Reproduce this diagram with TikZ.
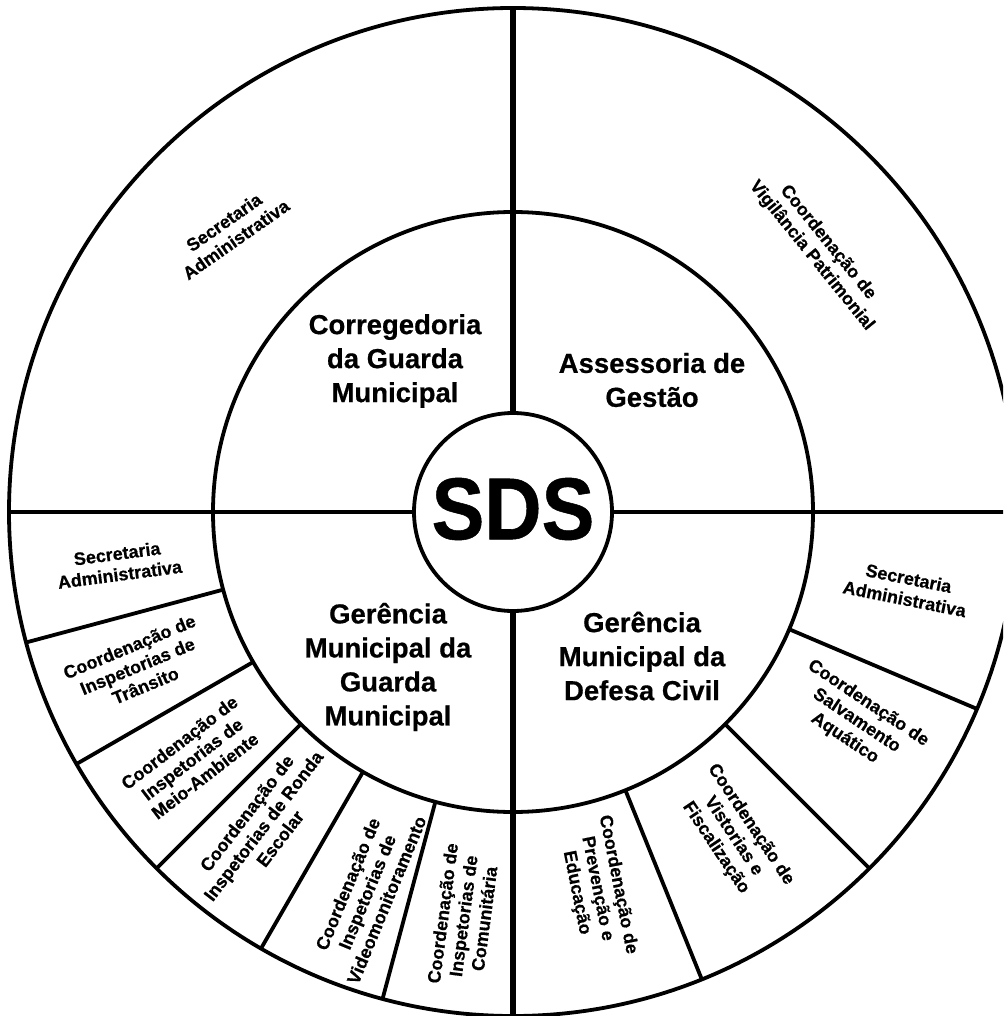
\documentclass[tikz,border=0pt]{standalone}
\usepackage{fontspec}
\setmainfont{Liberation Sans}[BoldFeatures={FakeBold=0.6}]
\begin{document}
\begin{tikzpicture}[x=1pt,y=1pt,
  ring/.style={draw, circle, line width=3.8pt, outer sep=0pt, inner sep=0pt},
  crossv/.style={line width=5.5pt},
  crossh/.style={line width=4.2pt},
  divider/.style={line width=3.8pt},
  mainlbl/.style={font=\fontsize{27.5}{34}\selectfont\bfseries, align=center, inner sep=0pt},
  ringlbl/.style={font=\fontsize{18}{21}\selectfont\bfseries, align=center, inner sep=0pt}]
\useasboundingbox (0,0) rectangle (1003,-1016);
\clip (0,0) rectangle (1003,-1016);
\fill[white] (0,0) rectangle (1003,-1016);
\coordinate (O) at (513,-512);
\node[ring, minimum size=1008pt] (outer) at (O) {};
\node[ring, minimum size=600pt] (mid) at (O) {};
\node[ring, minimum size=198pt] (sds) at (O) {};
\node[inner sep=0pt, font=\fontsize{88}{88}\selectfont\bfseries] (sdstext) at (513,-509) {\scalebox{0.9}[1]{SDS}};
% cross lines
\draw[crossv] (outer.north) -- (sds.north);
\draw[crossv] (sds.south) -- (outer.south);
\draw[crossh] (outer.west) -- (sds.west);
\draw[crossh] (sds.east) -- (outer.east);
% dividers
\foreach \a in {195,210,225,240,255,337.5,315,292.5}
  \draw[divider] (mid.\a) -- (outer.\a);
% main labels
\node[mainlbl] (corr) at (395,-361) {Corregedoria\\da Guarda\\Municipal};
\node[mainlbl] (asse) at (652,-380) {Assessoria de\\Gestão};
\node[mainlbl] (gmgm) at (388,-667) {Gerência\\Municipal da\\Guarda\\Municipal};
\node[mainlbl] (gmdc) at (642,-656) {Gerência\\Municipal da\\Defesa Civil};
% ring labels
\node[ringlbl, rotate=35] (tl) at ([shift={(135.2:399)}]O) {Secretaria\\Administrativa};
\node[ringlbl, rotate=-51] (tr) at ([shift={(40.6:404)}]O) {Coordenação de\\Vigilância Patrimonial};
\node[ringlbl, rotate=7.5] (bl1) at ([shift={(187.5:398)}]O) {Secretaria\\Administrativa};
\node[ringlbl, rotate=22.5] (bl2) at ([shift={(202.3:406)}]O) {Coordenação de\\Inspetorias de\\Trânsito};
\node[ringlbl, rotate=37.5] (bl3) at ([shift={(217.6:405)}]O) {Coordenação de\\Inspetorias de\\Meio-Ambiente};
\node[ringlbl, rotate=52.5] (bl4) at ([shift={(231.5:401)}]O) {Coordenação de\\Inspetorias de Ronda\\Escolar};
\node[ringlbl, rotate=67.5] (bl5) at ([shift={(249:407)}]O) {Coordenação de\\Inspetorias de\\Videomonitoramento};
\node[ringlbl, rotate=82.5] (bl6) at ([shift={(263:407)}]O) {Coordenação de\\Inspetorias de\\Comunitária};
\node[ringlbl, rotate=-11.25] (br1) at ([shift={(-11:401)}]O) {Secretaria\\Administrativa};
\node[ringlbl, rotate=-33.75] (br2) at ([shift={(-31.3:402)}]O) {Coordenação de\\Salvamento\\Aquático};
\node[ringlbl, rotate=-56.25] (br3) at ([shift={(-55.8:392)}]O) {Coordenação de\\Vistorias e\\Fiscalização};
\node[ringlbl, rotate=-78.75] (br4) at ([shift={(-77.4:386)}]O) {Coordenação de\\Prevenção e\\Educação};
\end{tikzpicture}
\end{document}
